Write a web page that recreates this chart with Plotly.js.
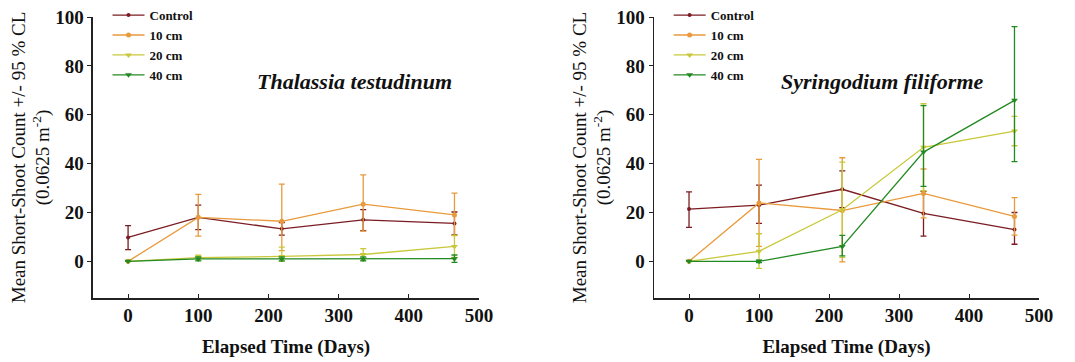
<!DOCTYPE html>
<html>
<head>
<meta charset="utf-8">
<script src="https://cdn.plot.ly/plotly-3.0.1.min.js"></script>
<style>html,body{margin:0;padding:0;background:#fff;}#chart{width:1075px;height:362px;}</style>
</head>
<body>
<div id="chart"></div>
<script>
// Elapsed time (days) of each sampling
const days = [0, 100, 219, 335, 465];
const seriesNames = ["Control", "10 cm", "20 cm", "40 cm"];

// Thalassia testudinum: means and 95% CL (upper / lower half-widths)
const thalControl = [9.8, 18, 13.3, 17, 15.5];
const thalControlErrUp = [4.8, 5, 2.6, 4.2, 4.7];
const thalControlErrDn = [5, 5, 2.6, 4.4, 4.7];
const thal10 = [0, 18, 16.4, 23.4, 19];
const thal10ErrUp = [0, 9.4, 15.2, 12, 8.9];
const thal10ErrDn = [0, 7.7, 12, 11, 8.5];
const thal20 = [0, 1.5, 2, 2.8, 6.1];
const thal20ErrUp = [0, 1, 3.8, 2.4, 4.5];
const thal20ErrDn = [0, 1, 2, 2.4, 4.5];
const thal40 = [0, 1, 1, 1, 1.1];
const thal40ErrUp = [0, 0.8, 0.8, 0.8, 1.5];
const thal40ErrDn = [0, 0.8, 0.8, 0.8, 1.5];

// Syringodium filiforme
const syrControl = [21.4, 23, 29.5, 19.6, 13];
const syrControlErrUp = [7, 8.2, 7.5, 9, 7];
const syrControlErrDn = [7.5, 7.5, 7.5, 9.3, 6];
const syr10 = [0, 23.9, 20.8, 27.8, 18.4];
const syr10ErrUp = [0, 17.8, 21.6, 10, 7.7];
const syr10ErrDn = [0, 17.8, 21, 10, 7.7];
const syr20 = [0, 4.1, 21.1, 46.7, 53.3];
const syr20ErrUp = [0, 7.2, 19.5, 17.8, 6];
const syr20ErrDn = [0, 7, 19.5, 17.8, 6];
const syr40 = [0, 0, 6.1, 44.7, 65.9];
const syr40ErrUp = [0, 0.5, 4.5, 19, 30.2];
const syr40ErrDn = [0, 0.5, 3.9, 14, 25.1];

const colors = ["#7b1c22", "#e89a3c", "#c8c83a", "#238a23"];
const symbols = ["circle", "circle", "triangle-down", "triangle-down"];
const msizes = [4, 5, 6, 6];

function mk(name, i, y, up, dn, xa, ya, leg) {
  return {
    type: "scatter", mode: "lines+markers", name: name,
    x: days, y: y, xaxis: xa, yaxis: ya, legend: leg,
    line: {color: colors[i], width: 1.3},
    marker: {color: colors[i], symbol: symbols[i], size: msizes[i]},
    error_y: {type: "data", symmetric: false, array: up, arrayminus: dn,
              color: colors[i], thickness: 1.3, width: 3}
  };
}

const data = [
  mk(seriesNames[0], 0, thalControl, thalControlErrUp, thalControlErrDn, "x", "y", "legend"),
  mk(seriesNames[1], 1, thal10, thal10ErrUp, thal10ErrDn, "x", "y", "legend"),
  mk(seriesNames[2], 2, thal20, thal20ErrUp, thal20ErrDn, "x", "y", "legend"),
  mk(seriesNames[3], 3, thal40, thal40ErrUp, thal40ErrDn, "x", "y", "legend"),
  mk(seriesNames[0], 0, syrControl, syrControlErrUp, syrControlErrDn, "x2", "y2", "legend2"),
  mk(seriesNames[1], 1, syr10, syr10ErrUp, syr10ErrDn, "x2", "y2", "legend2"),
  mk(seriesNames[2], 2, syr20, syr20ErrUp, syr20ErrDn, "x2", "y2", "legend2"),
  mk(seriesNames[3], 3, syr40, syr40ErrUp, syr40ErrDn, "x2", "y2", "legend2")
];

const serif = "'Liberation Serif', 'Times New Roman', Times, serif";
const xTitle = {text: "Elapsed Time (Days)", font: {family: serif, size: 19, color: "#111", weight: "bold"}, standoff: 14};
const yTitle = {text: "Mean Short-Shoot Count +/- 95 % CL<br>(0.0625 m<sup>-2</sup>)", font: {family: serif, size: 19, color: "#111"}, standoff: 0};

function xax(domain, anchor) {
  return {domain: domain, anchor: anchor, range: [-50, 500], tickvals: [0, 100, 200, 300, 400, 500],
    showline: true, linecolor: "#222", linewidth: 1.5, ticks: "inside", ticklen: 4, tickcolor: "#222",
    showgrid: false, zeroline: false, tickfont: {family: serif, size: 19, color: "#111", weight: "bold"}, title: xTitle};
}
function yax(anchor) {
  return {domain: [0, 1], anchor: anchor, range: [-15, 100], tickvals: [0, 20, 40, 60, 80, 100],
    showline: true, linecolor: "#222", linewidth: 1.5, ticks: "outside", ticklen: 4, tickcolor: "#222",
    showgrid: false, zeroline: false, tickfont: {family: serif, size: 19, color: "#111", weight: "bold"}, title: yTitle};
}

const legFont = {family: serif, size: 13, color: "#111", weight: "bold"};

const layout = {
  width: 1075, height: 362,
  margin: {l: 0, r: 0, t: 15, b: 64},
  paper_bgcolor: "#fff", plot_bgcolor: "#fff",
  font: {family: serif},
  showlegend: true,
  xaxis: xax([0.0865, 0.4456], "y"),
  yaxis: yax("x"),
  xaxis2: xax([0.6084, 0.9665], "y2"),
  yaxis2: yax("x2"),
  legend: {x: 0.1, xanchor: "left", y: 1.06, yanchor: "top", font: legFont, bgcolor: "rgba(0,0,0,0)", itemwidth: 32, tracegroupgap: 0},
  legend2: {x: 0.622, xanchor: "left", y: 1.06, yanchor: "top", font: legFont, bgcolor: "rgba(0,0,0,0)", itemwidth: 32, tracegroupgap: 0},
  annotations: [
    {xref: "x", yref: "y", x: 322, y: 73.6, text: "<b><i>Thalassia testudinum</i></b>", showarrow: false,
     font: {family: serif, size: 22, color: "#111"}},
    {xref: "x2", yref: "y2", x: 277, y: 73.6, text: "<b><i>Syringodium filiforme</i></b>", showarrow: false,
     font: {family: serif, size: 22, color: "#111"}}
  ]
};

Plotly.newPlot("chart", data, layout, {displayModeBar: false, staticPlot: true});
</script>
</body>
</html>
